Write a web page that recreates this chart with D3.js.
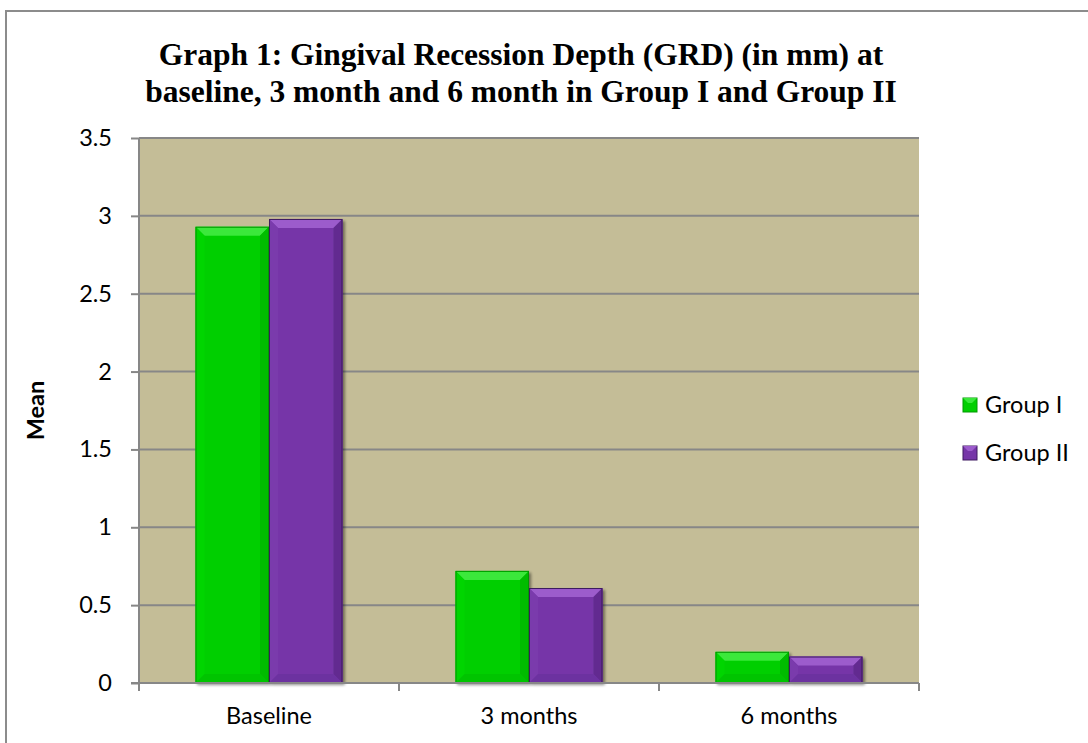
<!DOCTYPE html>
<html>
<head>
<meta charset="utf-8">
<script src="https://cdn.jsdelivr.net/npm/d3@7"></script>
<style>
  html, body { margin: 0; padding: 0; background: #fff; }
  svg { display: block; }
</style>
</head>
<body>
<svg id="chart" width="1088" height="743"></svg>
<script>
// Mean gingival recession depth (mm) per visit
const categories = ["Baseline", "3 months", "6 months"];
const seriesNames = ["Group I", "Group II"];
const groupI = [2.93, 0.72, 0.20];
const groupII = [2.98, 0.61, 0.17];
const yTicks = [0, 0.5, 1, 1.5, 2, 2.5, 3, 3.5];
const titleLines = [
  "Graph 1: Gingival Recession Depth (GRD) (in mm) at",
  "baseline, 3 month and 6 month in Group I and Group II"
];

const palette = [
  { body: "#00cf00", top: "#3ae83a", left: "#06d506", right: "#00bc00", bottom: "#00c400", edge: "#009a00" },
  { body: "#7636a8", top: "#9c5ccc", left: "#7a3aac", right: "#622c90", bottom: "#6c30a0", edge: "#3e1a60" }
];

const svg = d3.select("#chart");
const W = 1088, H = 743;
const plot = { left: 139, right: 919, top: 138, bottom: 683 };

// Chart area frame
svg.append("rect")
  .attr("x", 6).attr("y", 11)
  .attr("width", W + 10).attr("height", H + 10)
  .attr("fill", "#fff").attr("stroke", "#8c8c8c").attr("stroke-width", 2);

const x = d3.scaleBand().domain(categories).range([plot.left, plot.right]).paddingInner(0).paddingOuter(0);
const inner = d3.scaleBand().domain(seriesNames).range([0, x.bandwidth()]).paddingInner(0).paddingOuter(0.77);
const y = d3.scaleLinear().domain([0, 3.5]).range([plot.bottom, plot.top]);

// Plot background
svg.append("rect")
  .attr("x", plot.left).attr("y", plot.top)
  .attr("width", plot.right - plot.left).attr("height", plot.bottom - plot.top)
  .attr("fill", "#c4bd97");

// Horizontal gridlines
svg.append("g").selectAll("line")
  .data(yTicks.filter(d => d > 0))
  .join("line")
  .attr("x1", plot.left).attr("x2", plot.right)
  .attr("y1", d => y(d)).attr("y2", d => y(d))
  .attr("stroke", "#878787").attr("stroke-width", 2);

// Drop shadow for the bars
const defs = svg.append("defs");
const f = defs.append("filter").attr("id", "shadow").attr("x", "-10%").attr("y", "-10%").attr("width", "130%").attr("height", "130%");
f.append("feGaussianBlur").attr("in", "SourceAlpha").attr("stdDeviation", 1.6).attr("result", "b");
f.append("feOffset").attr("in", "b").attr("dx", 2).attr("dy", 2).attr("result", "o");
f.append("feComponentTransfer").attr("in", "o").attr("result", "s")
  .append("feFuncA").attr("type", "linear").attr("slope", 0.45);
const m = f.append("feMerge");
m.append("feMergeNode").attr("in", "s");
m.append("feMergeNode").attr("in", "SourceGraphic");

const seriesValues = [groupI, groupII];
const bars = [];
categories.forEach((c, i) => {
  seriesNames.forEach((s, j) => {
    bars.push({ cat: c, series: s, value: seriesValues[j][i], col: palette[j] });
  });
});

const barG = svg.append("g").selectAll("g")
  .data(bars)
  .join("g")
  .attr("filter", "url(#shadow)");

barG.each(function (d) {
  const g = d3.select(this);
  const bx = x(d.cat) + inner(d.series);
  const bw = inner.bandwidth();
  const by = y(d.value);
  const bh = y(0) - y(d.value);
  const b = Math.min(9, bh / 2.5);
  const pts = a => a.map(p => p.join(",")).join(" ");
  g.append("rect").attr("x", bx).attr("y", by).attr("width", bw).attr("height", bh).attr("fill", d.col.body);
  g.append("polygon").attr("points", pts([[bx, by], [bx + bw, by], [bx + bw - b, by + b], [bx + b, by + b]])).attr("fill", d.col.top);
  g.append("polygon").attr("points", pts([[bx, by], [bx + b, by + b], [bx + b, by + bh - b], [bx, by + bh]])).attr("fill", d.col.left);
  g.append("polygon").attr("points", pts([[bx + bw, by], [bx + bw - b, by + b], [bx + bw - b, by + bh - b], [bx + bw, by + bh]])).attr("fill", d.col.right);
  g.append("polygon").attr("points", pts([[bx, by + bh], [bx + b, by + bh - b], [bx + bw - b, by + bh - b], [bx + bw, by + bh]])).attr("fill", d.col.bottom);
  g.append("rect").attr("x", bx + 0.5).attr("y", by + 0.5).attr("width", bw - 1).attr("height", bh - 1)
    .attr("fill", "none").attr("stroke", d.col.edge).attr("stroke-width", 1);
});

const tickFont = "Lato, 'Open Sans', sans-serif";
const tickSize = "23.5px";

// Y axis
const yAxis = svg.append("g")
  .attr("transform", `translate(${plot.left},0)`)
  .call(d3.axisLeft(y).tickValues(yTicks).tickSize(8).tickPadding(19).tickFormat(d3.format("")));
yAxis.select(".domain").attr("stroke", "#878787").attr("stroke-width", 2).attr("d", `M0,${plot.top}V${plot.bottom + 1}`);
yAxis.selectAll(".tick line").attr("stroke", "#878787").attr("stroke-width", 2);
yAxis.selectAll(".tick text").attr("fill", "#000").style("font-family", tickFont).style("font-size", tickSize);

// X axis
const xAxis = svg.append("g")
  .attr("transform", `translate(0,${plot.bottom})`)
  .call(d3.axisBottom(x).tickSize(0).tickPadding(24));
xAxis.select(".domain").attr("stroke", "#878787").attr("stroke-width", 2).attr("d", `M${plot.left - 8},0H${plot.right}`);
xAxis.selectAll(".tick text").attr("fill", "#000").style("font-family", tickFont).style("font-size", tickSize);
xAxis.append("g").selectAll("line")
  .data(d3.range(categories.length + 1))
  .join("line")
  .attr("x1", i => plot.left + i * x.step()).attr("x2", i => plot.left + i * x.step())
  .attr("y1", 0).attr("y2", 8)
  .attr("stroke", "#878787").attr("stroke-width", 2);

// Y axis title
svg.append("text")
  .attr("transform", `translate(44,${(plot.top + plot.bottom) / 2}) rotate(-90)`)
  .attr("text-anchor", "middle")
  .style("font-family", tickFont).style("font-weight", "bold").style("font-size", tickSize)
  .text("Mean");

// Chart title
svg.append("g").selectAll("text")
  .data(titleLines)
  .join("text")
  .attr("x", 521).attr("y", (d, i) => 65 + i * 37)
  .attr("text-anchor", "middle")
  .style("font-family", "'Liberation Serif', 'Times New Roman', serif")
  .style("font-weight", "bold").style("font-size", "31.5px")
  .text(d => d);

// Legend
const legend = svg.append("g").selectAll("g")
  .data(seriesNames)
  .join("g")
  .attr("transform", (d, i) => `translate(963,${398 + i * 48})`);
legend.append("rect").attr("width", 14).attr("height", 14)
  .attr("fill", (d, i) => palette[i].body).attr("stroke", (d, i) => palette[i].edge).attr("stroke-width", 1);
legend.append("polygon").attr("points", "0,0 14,0 9,5 5,5").attr("fill", (d, i) => palette[i].top);
legend.append("text").attr("x", 22).attr("y", 15)
  .style("font-family", tickFont).style("font-size", tickSize)
  .text(d => d);
</script>
</body>
</html>
